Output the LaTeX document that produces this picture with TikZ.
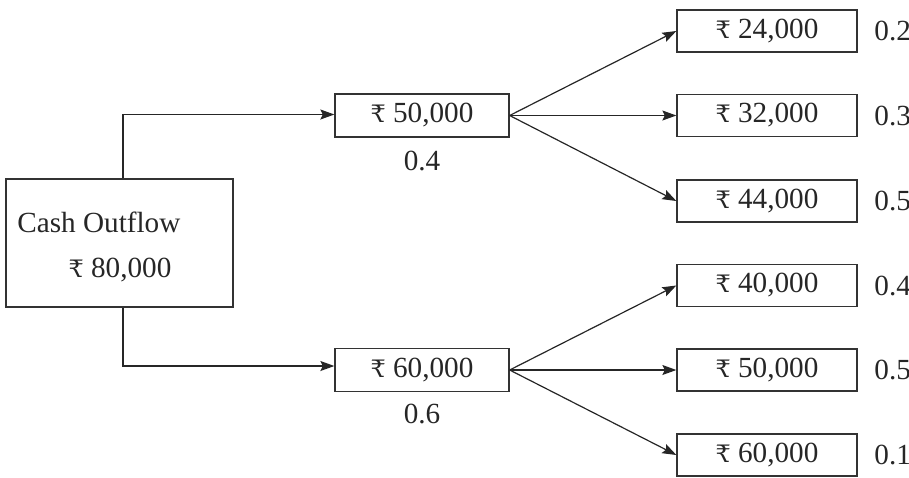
\documentclass[tikz,border=0pt]{standalone}
\usepackage{fontspec}
\setmainfont{Liberation Serif}
\newfontfamily\rupfont{DejaVu Serif}
\usetikzlibrary{arrows.meta}
\newcommand{\rs}{{\rupfont\fontsize{12}{14}\selectfont ₹}}
\begin{document}
\begin{tikzpicture}[x=0.5pt,y=-0.5pt,
  every node/.style={font=\fontsize{14.6}{17}\selectfont, text=black!85},
  box/.style={draw=black!80, line width=0.65pt, inner sep=0pt},
  midbox/.style={box, minimum width=87pt, minimum height=21.5pt},
  endbox/.style={box, minimum width=90pt, minimum height=21pt},
  conn/.style={draw=black!85, line width=0.6pt, -{Stealth[length=7pt,width=5pt,inset=1.2pt]}},
  prob/.style={inner sep=0pt}]
\useasboundingbox (0,0) rectangle (909,477);
% source box
\node[box, minimum width=113.5pt, minimum height=64pt] (src) at (119.5,243) {};
\node[prob, anchor=base west] (srct) at (17,232) {Cash Outflow};
\node[prob, anchor=base] (srcv) at (120,277) {\rs\ 80,000};
% middle boxes
\node[midbox] (m1) at (422,115.5) {\rs\ 50,000};
\node[midbox] (m2) at (422,370) {\rs\ 60,000};
\node[prob] (q1) at (422,161) {0.4};
\node[prob] (q2) at (422,414) {0.6};
% end boxes
\node[endbox] (r1) at (767,31) {\rs\ 24,000};
\node[endbox] (r2) at (767,115.5) {\rs\ 32,000};
\node[endbox] (r3) at (767,201) {\rs\ 44,000};
\node[endbox] (r4) at (767,285.5) {\rs\ 40,000};
\node[endbox] (r5) at (767,370) {\rs\ 50,000};
\node[endbox] (r6) at (767,455) {\rs\ 60,000};
\node[prob, anchor=west] (p1) at (874,31) {0.2};
\node[prob, anchor=west] (p2) at (874,115.5) {0.3};
\node[prob, anchor=west] (p3) at (874,201) {0.5};
\node[prob, anchor=west] (p4) at (874,285.5) {0.4};
\node[prob, anchor=west] (p5) at (874,370) {0.5};
\node[prob, anchor=west] (p6) at (874,455) {0.1};
% connectors
\draw[conn] ([xshift=1.75pt]src.north) |- ([yshift=0.5pt]m1.west);
\draw[conn] ([xshift=1.75pt]src.south) |- ([yshift=2pt]m2.west);
\foreach \r in {r1,r2,r3} \draw[conn] (m1.east) -- (\r.west);
\foreach \r in {r4,r5,r6} \draw[conn] (m2.east) -- (\r.west);
\end{tikzpicture}
\end{document}
